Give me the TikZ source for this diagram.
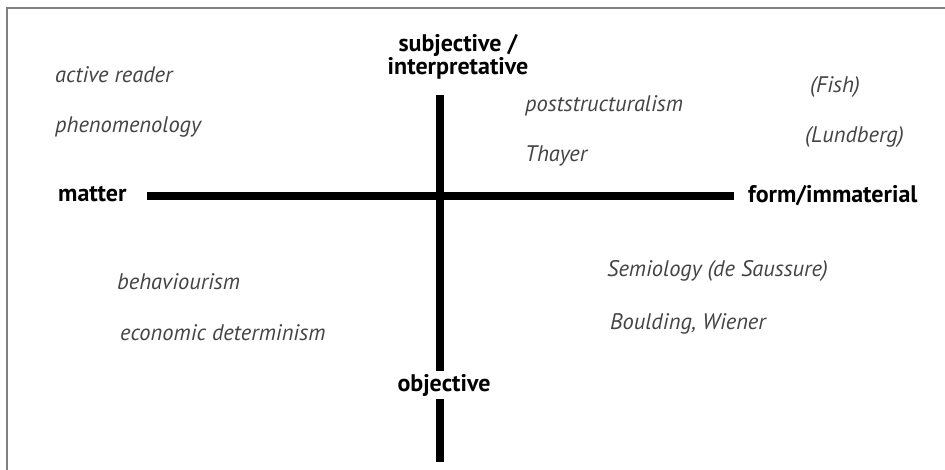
\documentclass[tikz,border=0pt]{standalone}
\usepackage{fontspec}
\setmainfont{PT Sans}
\begin{document}
\begin{tikzpicture}[x=1pt,y=-1pt,
  axis/.style={line width=7.5pt},
  pole/.style={font=\bfseries\fontsize{24}{22}\selectfont,align=center,inner sep=0pt},
  school/.style={font=\itshape\fontsize{22.5}{24}\selectfont,text=ctext,anchor=base west,inner sep=0pt}]
\definecolor{cframe}{RGB}{128,128,128}   %gray frame
\definecolor{ctext}{RGB}{68,68,68}       %darkgray
\useasboundingbox (0,0) rectangle (945,470);
\draw[cframe,line width=2pt] (7,470) -- (7,8) -- (945,8);
% poles
\node[pole,anchor=base] (subj) at (458,75) {subjective /\\interpretative};
\node[pole,anchor=base west] (matter) at (58,202) {matter};
\node[pole,anchor=base west] (form) at (748,203) {form/immaterial};
\coordinate (top) at (440,95);
\coordinate (bottom) at (440,462);
\coordinate (west) at (147,196);
\coordinate (east) at (734,196);
\draw[axis] (top) -- (bottom);
\draw[axis] (west) -- (east);
\node[pole,anchor=base,fill=white,inner sep=3pt] (obj) at (444,391) {objective};
% schools
\node[school] (reader) at (55,83) {active reader};
\node[school] (phen) at (55,133) {phenomenology};
\node[school] (post) at (525,112) {poststructuralism};
\node[school] (thayer) at (525,162) {Thayer};
\node[school] (fish) at (810,93) {(Fish)};
\node[school] (lund) at (805,143) {(Lundberg)};
\node[school] (behav) at (117,290) {behaviourism};
\node[school] (econ) at (120,340) {economic determinism};
\node[school] (semio) at (607,277) {Semiology (de Saussure)};
\node[school] (bould) at (610,330) {Boulding, Wiener};
\end{tikzpicture}
\end{document}
